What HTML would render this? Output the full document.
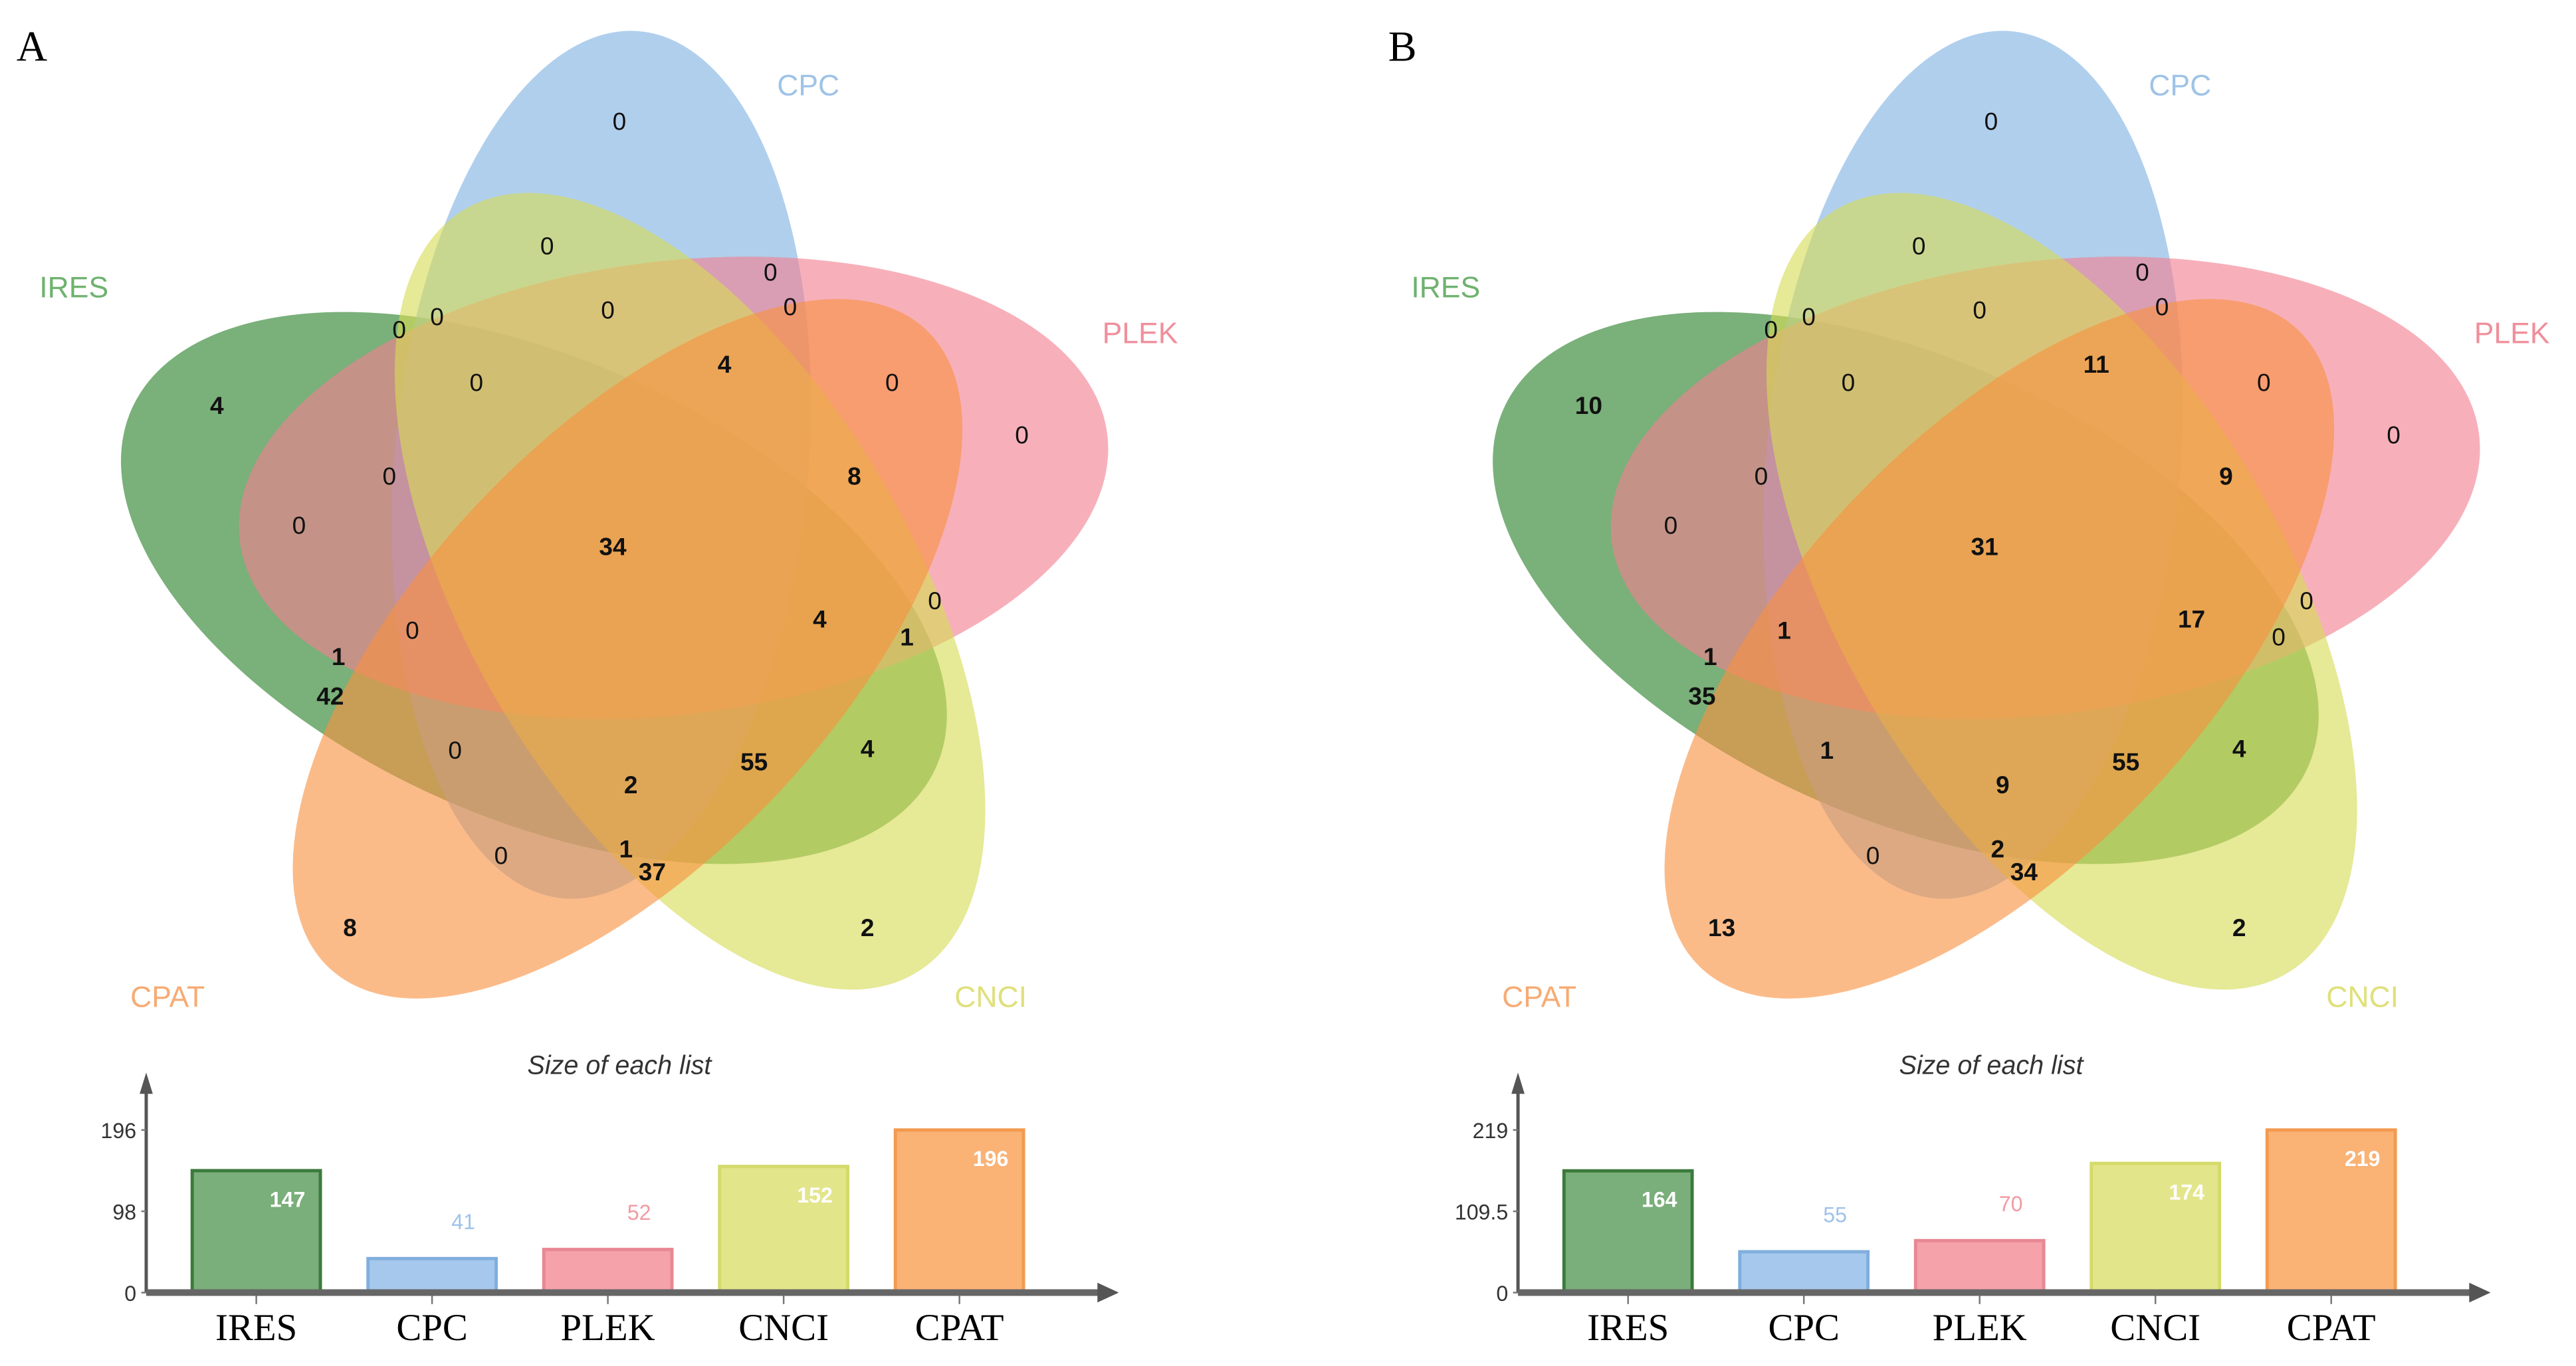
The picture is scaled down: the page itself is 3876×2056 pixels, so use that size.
<!DOCTYPE html>
<html><head><meta charset="utf-8">
<style>html,body{margin:0;padding:0;background:#fff;}svg{display:block;}</style>
</head><body>
<svg id="chart" width="3876" height="2056" viewBox="0 0 1568 831.7" preserveAspectRatio="none" xmlns="http://www.w3.org/2000/svg"></svg>
<script>
const setNames = ["IRES","CPC","PLEK","CNCI","CPAT"];
const sizesA = [147,41,52,152,196];
const sizesB = [164,55,70,174,219];
const ticksA = ["0","98","196"];
const tickValsA = [0,98,196];
const ticksB = ["0","109.5","219"];
const tickValsB = [0,109.5,219];
const regionValsA = ["0","0","0","0","0","0","0","4","0","4","0","0","0","8","0","34","4","0","1","0","1","42","0","2","55","4","0","1","37","8","2"];
const regionValsB = ["0","0","0","0","0","0","0","10","0","11","0","0","0","9","0","31","17","0","0","1","1","35","1","9","55","4","0","2","34","13","2"];

const NS="http://www.w3.org/2000/svg";
const svg=document.getElementById('chart');
function mk(tag,attrs,parent){const e=document.createElementNS(NS,tag);for(const k in attrs)e.setAttribute(k,attrs[k]);(parent||svg).appendChild(e);return e;}

const ell=[[325,358,268,140,24],[366,283,265,126,-85],[410,297,266,138,-7],[420,360,270,135,59.5],[382,395,266,127,-47]];
const fills=["#298029","#80b2e2","#f2808f","#d6dc55","#f89240"];
const labelPos=[[45,175,"#6fb26f"],[492,52,"#9fc3e8"],[694,203,"#f08f9c"],[603,607,"#dfe07a"],[102,607,"#f7ab74"]];
const regionPos=[[377,74],[333,150],[469,166],[243,201],[266,193],[370,189],[481,187],[132,247],[290,233],[441,222],[543,233],[622,265],[237,290],[520,290],[182,320],[373,333],[499,377],[569,366],[552,388],[251,384],[206,400],[201,424],[277,457],[384,478],[459,464],[528,456],[305,521],[381,517],[397,531],[213,565],[528,565]];
const barFill=["#7aae7a","#a6c8ec","#f5a2aa","#e3e58a","#fab275"];
const barStroke=["#3c7a3c","#80aede","#e88894","#d4da6a","#f29a50"];
const barLabelCol=["#ffffff","#9fc3e8","#f39aa4","#ffffff","#ffffff"];

function panel(dx,letter,regionVals,sizes,tickLabels,tickVals){
  const g=mk('g',{});
  const t=mk('text',{x:dx+10,y:37,'font-family':'Liberation Serif, serif','font-size':26,fill:'#000'},g);
  t.textContent=letter;
  
  
  for(let i=0;i<5;i++){
    const e=ell[i];
    const el=mk('ellipse',{cx:dx+e[0],cy:e[1],rx:e[2],ry:e[3],transform:`rotate(${e[4]} ${dx+e[0]} ${e[1]})`,fill:fills[i],'fill-opacity':0.62},g);
    
    
    const lp=labelPos[i];
    const lt=mk('text',{x:dx+lp[0],y:lp[1]+6,'text-anchor':'middle','font-family':'Liberation Sans, sans-serif','font-size':18,fill:lp[2]},g);
    lt.textContent=setNames[i];
    
    
  }
  for(let i=0;i<regionVals.length;i++){
    const p=regionPos[i];
    const v=regionVals[i];
    const rt=mk('text',{x:dx+p[0],y:p[1]+5,'text-anchor':'middle','font-family':'Liberation Sans, sans-serif','font-size':15,'font-weight':v==="0"?'normal':'bold',fill:'#111'},g);
    rt.textContent=v;
    
    
  }
  const x0=dx+89, y0=787, top=688, maxV=tickVals[tickVals.length-1];
  const ys=v=>y0-(v/maxV)*(y0-top);
  const tt=mk('text',{x:dx+377,y:654,'text-anchor':'middle','font-family':'Liberation Sans, sans-serif','font-size':16,'font-style':'italic',fill:'#333'},g);
  tt.textContent='Size of each list';
  
  
  for(let i=0;i<5;i++){
    const bx=dx+117+i*107, bw=78, by=ys(sizes[i]);
    const r=mk('rect',{x:bx,y:by,width:bw,height:y0-by,fill:barFill[i],stroke:barStroke[i],'stroke-width':2},g);
    
    
    const inside=barLabelCol[i]==="#ffffff";
    const vt=mk('text',{x:bx+bw-20,y:inside?by+22:by-18,'text-anchor':'middle','font-family':'Liberation Sans, sans-serif','font-size':13,'font-weight':inside?'bold':'normal',fill:barLabelCol[i]},g);
    vt.textContent=String(sizes[i]);
    
    
    const tk=mk('line',{x1:bx+bw/2,y1:y0,x2:bx+bw/2,y2:y0+7,stroke:'#777','stroke-width':1},g);
    
    
    const ct=mk('text',{x:bx+bw/2,y:y0+29,'text-anchor':'middle','font-family':'Liberation Serif, serif','font-size':23,fill:'#000'},g);
    ct.textContent=setNames[i];
    
    
  }
  const ya=mk('line',{x1:x0,y1:y0,x2:x0,y2:662,stroke:'#555','stroke-width':2},g);
  
  
  const yah=mk('path',{d:`M${x0-4} 666 L${x0} 653 L${x0+4} 666 Z`,fill:'#555'},g);
  
  
  const xa=mk('line',{x1:x0,y1:y0,x2:dx+672,y2:y0,stroke:'#666','stroke-width':4},g);
  
  
  const xah=mk('path',{d:`M${dx+668} ${y0-6} L${dx+681} ${y0} L${dx+668} ${y0+6} Z`,fill:'#555'},g);
  
  
  for(let i=0;i<tickVals.length;i++){
    const yy=ys(tickVals[i]);
    const yt=mk('text',{x:x0-6,y:yy+5,'text-anchor':'end','font-family':'Liberation Sans, sans-serif','font-size':13,fill:'#333'},g);
    yt.textContent=tickLabels[i];
    
    
    const ytk=mk('line',{x1:x0-3,y1:yy,x2:x0,y2:yy,stroke:'#777','stroke-width':1},g);
    
    
  }
}
panel(0,"A",regionValsA,sizesA,ticksA,tickValsA);
panel(835,"B",regionValsB,sizesB,ticksB,tickValsB);
</script>
</body></html>
